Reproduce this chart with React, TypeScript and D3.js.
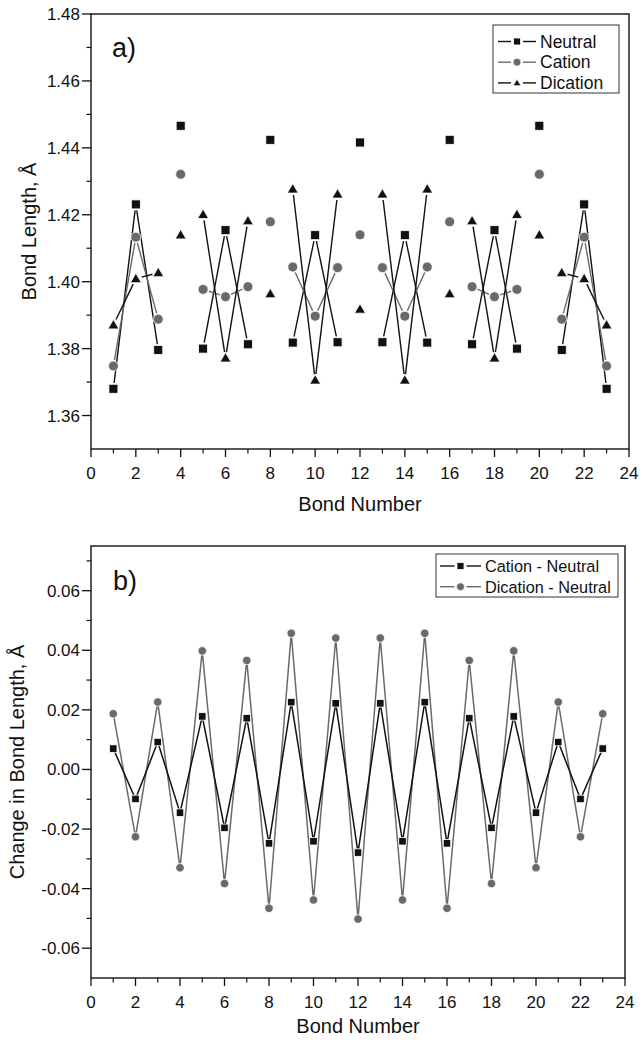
import * as d3 from "d3";

// bond index along the chain
const bonds = [1, 2, 3, 4, 5, 6, 7, 8, 9, 10, 11, 12, 13, 14, 15, 16, 17, 18, 19, 20, 21, 22, 23];

// panel a) bond lengths, Å
const neutral = [1.368, 1.4231, 1.3796, 1.4466, 1.38, 1.4154, 1.3813, 1.4424, 1.3818, 1.4139, 1.3819, 1.4416,
  1.3819, 1.4139, 1.3818, 1.4424, 1.3813, 1.4154, 1.38, 1.4466, 1.3796, 1.4231, 1.368];
const cation = [1.3748, 1.4133, 1.3888, 1.4321, 1.3977, 1.3955, 1.3985, 1.4179, 1.4044, 1.3897, 1.4042, 1.414,
  1.4042, 1.3897, 1.4044, 1.4179, 1.3985, 1.3955, 1.3977, 1.4321, 1.3888, 1.4133, 1.3748];
const dication = [1.3871, 1.4009, 1.4027, 1.414, 1.4201, 1.3772, 1.4182, 1.3964, 1.4277, 1.3706, 1.4262, 1.3918,
  1.4262, 1.3706, 1.4277, 1.3964, 1.4182, 1.3772, 1.4201, 1.414, 1.4027, 1.4009, 1.3871];

// which bonds are joined by lines in panel a)
const linkedGroups = [[1, 2, 3], [5, 6, 7], [9, 10, 11], [13, 14, 15], [17, 18, 19], [21, 22, 23]];

// panel b) differences, Å
const cationDiff = [0.007, -0.0099, 0.0092, -0.0145, 0.0178, -0.0196, 0.0172, -0.0248, 0.0226, -0.0241, 0.0222, -0.0279,
  0.0222, -0.0241, 0.0226, -0.0248, 0.0172, -0.0196, 0.0178, -0.0145, 0.0092, -0.0099, 0.007];
const dicationDiff = [0.0187, -0.0226, 0.0226, -0.033, 0.0398, -0.0383, 0.0366, -0.0466, 0.0457, -0.0438, 0.0441, -0.0502,
  0.0441, -0.0438, 0.0457, -0.0466, 0.0366, -0.0383, 0.0398, -0.033, 0.0226, -0.0226, 0.0187];

const bondTicks = [0, 2, 4, 6, 8, 10, 12, 14, 16, 18, 20, 22, 24];
const lengthTicks = [1.36, 1.38, 1.4, 1.42, 1.44, 1.46, 1.48];
const diffTicks = [-0.06, -0.04, -0.02, 0, 0.02, 0.04, 0.06];

const BLACK = "#111";
const GREY = "#6a6a6a";
const FONT = "'Liberation Sans', Arial, Helvetica, sans-serif";

type Marker = "square" | "circle" | "triangle";

function Symbol({ x, y, kind, size, color }: { x: number; y: number; kind: Marker; size: number; color: string }) {
  if (kind === "square")
    return <rect x={x - size / 2} y={y - size / 2} width={size} height={size} fill={color} stroke="#fff" strokeWidth={0.8} />;
  if (kind === "circle")
    return <circle cx={x} cy={y} r={size / 2 + 0.5} fill={color} stroke="#fff" strokeWidth={0.8} />;
  const h = size * 0.9;
  return (
    <path
      d={`M${x},${y - h * 0.6}L${x + size / 2 + 0.5},${y + h * 0.45}L${x - size / 2 - 0.5},${y + h * 0.45}Z`}
      fill={color}
      stroke="#fff"
      strokeWidth={0.8}
    />
  );
}

function Axes({ x, y, yTicks, yMinor, xTitle, yTitle, yTitleX, titleDy }: any) {
  const [x0, x1] = x.range();
  const [y0, y1] = y.range();
  const xMinor = x.ticks(24).filter((t: number) => t % 2 === 1);
  return (
    <g fontFamily={FONT} fill="#111">
      <rect x={x0} y={y1} width={x1 - x0} height={y0 - y1} fill="none" stroke="#111" strokeWidth={1.4} />
      {bondTicks.map((t) => (
        <g key={"xt" + t}>
          <line x1={x(t)} x2={x(t)} y1={y0} y2={y0 + 8} stroke="#111" strokeWidth={1.3} />
          <text x={x(t)} y={y0 + 30} textAnchor="middle" fontSize={17}>{t}</text>
        </g>
      ))}
      {xMinor.map((t: number) => (
        <line key={"xm" + t} x1={x(t)} x2={x(t)} y1={y0} y2={y0 + 4.5} stroke="#111" strokeWidth={1.2} />
      ))}
      {yTicks.map((t: number) => (
        <g key={"yt" + t}>
          <line x1={x0 - 9} x2={x0} y1={y(t)} y2={y(t)} stroke="#111" strokeWidth={1.3} />
          <text x={x0 - 11} y={y(t) + 6} textAnchor="end" fontSize={17}>{t.toFixed(2)}</text>
        </g>
      ))}
      {yMinor.map((t: number) => (
        <line key={"ym" + t} x1={x0 - 4.5} x2={x0} y1={y(t)} y2={y(t)} stroke="#111" strokeWidth={1.2} />
      ))}
      <text x={(x0 + x1) / 2} y={y0 + titleDy} textAnchor="middle" fontSize={20}>{xTitle}</text>
      <text
        transform={`translate(${yTitleX},${(y0 + y1) / 2}) rotate(-90)`}
        textAnchor="middle"
        fontSize={20}
      >
        {yTitle}
      </text>
    </g>
  );
}

function LegendRow({ x, y, w, kind, color, label, size, fontSize }: any) {
  const mid = x + w / 2;
  return (
    <g>
      <line x1={x} x2={mid - 6} y1={y} y2={y} stroke={color} strokeWidth={1.4} />
      <line x1={mid + 6} x2={x + w} y1={y} y2={y} stroke={color} strokeWidth={1.4} />
      <Symbol x={mid} y={y} kind={kind} size={size} color={color} />
      <text x={x + w + 4} y={y + 6} fontSize={fontSize} fontFamily={FONT} fill="#111">{label}</text>
    </g>
  );
}

function PanelA() {
  const x = d3.scaleLinear().domain([0, 24]).range([91, 629]);
  const y = d3.scaleLinear().domain([1.35, 1.48]).range([449, 14]);
  const yMinor = y.ticks(13).filter((t) => !lengthTicks.some((m) => Math.abs(m - t) < 1e-6) && t > 1.351);
  const series = [
    { name: "Neutral", values: neutral, kind: "square" as Marker, color: BLACK, size: 9 },
    { name: "Cation", values: cation, kind: "circle" as Marker, color: GREY, size: 9 },
    { name: "Dication", values: dication, kind: "triangle" as Marker, color: BLACK, size: 10 },
  ];
  const gap = 6;
  const segments: { x1: number; y1: number; x2: number; y2: number; color: string; key: string }[] = [];
  series.forEach((s) => {
    linkedGroups.forEach((grp) => {
      d3.pairs(grp).forEach(([a, b]) => {
        const px1 = x(a), py1 = y(s.values[a - 1]);
        const px2 = x(b), py2 = y(s.values[b - 1]);
        const len = Math.hypot(px2 - px1, py2 - py1);
        const ux = (px2 - px1) / len, uy = (py2 - py1) / len;
        segments.push({
          x1: px1 + ux * gap, y1: py1 + uy * gap,
          x2: px2 - ux * gap, y2: py2 - uy * gap,
          color: s.color, key: s.name + a,
        });
      });
    });
  });
  return (
    <g>
      <Axes x={x} y={y} yTicks={lengthTicks} yMinor={yMinor} xTitle="Bond Number" yTitle="Bond Length, Å" yTitleX={36} titleDy={62} />
      {segments.map((sg) => (
        <line key={sg.key} x1={sg.x1} y1={sg.y1} x2={sg.x2} y2={sg.y2} stroke={sg.color} strokeWidth={1.4} />
      ))}
      {series.map((s) =>
        bonds.map((b, i) => (
          <Symbol key={s.name + b} x={x(b)} y={y(s.values[i])} kind={s.kind} size={s.size} color={s.color} />
        ))
      )}
      <text x={112} y={57} fontSize={27} fontFamily={FONT} fill="#111">a)</text>
      <rect x={493} y={25} width={126} height={68} fill="#fff" stroke="#333" strokeWidth={1} />
      {series.map((s, i) => (
        <LegendRow key={s.name} x={498} y={41.5 + i * 20.7} w={38} kind={s.kind} color={s.color} label={s.name} size={7} fontSize={17.5} />
      ))}
    </g>
  );
}

function PanelB() {
  const x = d3.scaleLinear().domain([0, 24]).range([91, 625]);
  const y = d3.scaleLinear().domain([-0.07, 0.075]).range([978, 546]);
  const yMinor = [-0.05, -0.03, -0.01, 0.01, 0.03, 0.05, 0.07];
  const series = [
    { name: "Dication - Neutral", values: dicationDiff, kind: "circle" as Marker, color: GREY },
    { name: "Cation - Neutral", values: cationDiff, kind: "square" as Marker, color: BLACK },
  ];
  const line = d3.line<number>().x((_, i) => x(bonds[i])).y((d) => y(d));
  return (
    <g>
      <Axes x={x} y={y} yTicks={diffTicks} yMinor={yMinor} xTitle="Bond Number" yTitle="Change in Bond Length, Å" yTitleX={24} titleDy={55} />
      {series.map((s) => (
        <path key={s.name} d={line(s.values) || ""} fill="none" stroke={s.color} strokeWidth={1.5} strokeLinejoin="miter" />
      ))}
      {series.map((s) =>
        bonds.map((b, i) => (
          <Symbol key={s.name + b} x={x(b)} y={y(s.values[i])} kind={s.kind} size={7.5} color={s.color} />
        ))
      )}
      <text x={113} y={590} fontSize={27} fontFamily={FONT} fill="#111">b)</text>
      <rect x={436} y={554} width={182} height={43} fill="#fff" stroke="#333" strokeWidth={1} />
      {[series[1], series[0]].map((s, i) => (
        <LegendRow key={s.name} x={440} y={566 + i * 20.7} w={41} kind={s.kind} color={s.color} label={s.name} size={7} fontSize={16.3} />
      ))}
    </g>
  );
}

export default function App() {
  return (
    <svg width={642} height={1040} style={{ position: "absolute", left: 0, top: 0, background: "#fff" }}>
      <rect width={642} height={1040} fill="#fff" />
      <PanelA />
      <PanelB />
    </svg>
  );
}
